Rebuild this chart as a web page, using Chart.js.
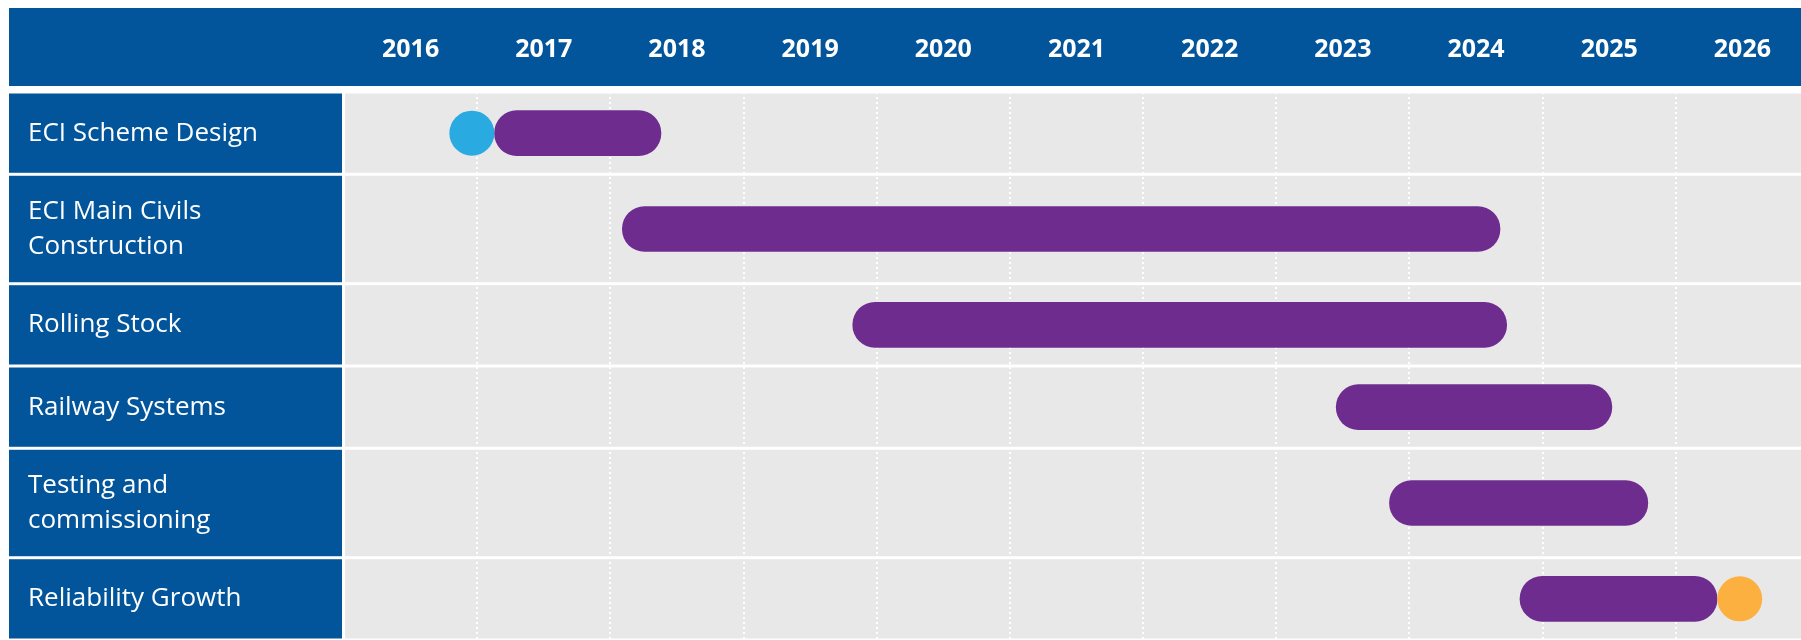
<!DOCTYPE html>
<html lang="en">
<head>
<meta charset="UTF-8">
<title>Programme timeline</title>
<style>
  html, body { margin: 0; padding: 0; background: #fff; overflow: hidden; }
  #wrap { position: relative; width: 1801px; height: 640px; }
</style>
</head>
<body>
<div id="wrap"><canvas id="gantt"></canvas></div>
<script src="https://cdn.jsdelivr.net/npm/chart.js@4.4.1/dist/chart.umd.min.js"></script>
<script>
// programme rows (an array = label on two lines)
const tasks = ['ECI Scheme Design', ['ECI Main Civils', 'Construction'], 'Rolling Stock',
               'Railway Systems', ['Testing and', 'commissioning'], 'Reliability Growth'];
const starts = [2017.13, 2018.09, 2019.82, 2023.45, 2023.85, 2024.83];
const ends   = [2018.38, 2024.68, 2024.73, 2025.52, 2025.79, 2026.31];

// milestones (row index, date, colour)
const milestoneRows = [0, 5];
const milestoneDates = [2016.96, 2026.48];
const milestoneColors = ['#29abe2', '#fbb040'];

// visible time range
const firstYear = 2016;
const lastVisible = 2026.94;

const BLUE = '#02559a', PURPLE = '#6e2c8f', CELL = '#e8e8e8';

// two-line labels get a taller row
const rowWeights = tasks.map(t => Array.isArray(t) ? 1.33 : 1);
const rowEdges = [0];
rowWeights.forEach(w => rowEdges.push(rowEdges[rowEdges.length - 1] + w));
const rowCenters = rowWeights.map((w, i) => rowEdges[i] + w / 2);

// header band, blue label cells and grey row cells behind the grid
const backdrop = {
    id: 'backdrop',
    beforeDraw(chart) {
        const {ctx, chartArea: a, scales: {y}} = chart;
        ctx.save();
        ctx.fillStyle = BLUE;
        ctx.fillRect(9, 8, chart.width - 9, 78);
        for (let i = 0; i < tasks.length; i++) {
            const top = y.getPixelForValue(rowEdges[i]) + 1.5;
            const bot = y.getPixelForValue(rowEdges[i + 1]) - 1.5;
            ctx.fillStyle = BLUE;
            ctx.fillRect(9, top, a.left - 11, bot - top);
            ctx.fillStyle = CELL;
            ctx.fillRect(a.left + 1, top, a.right - a.left - 1, bot - top);
        }
        ctx.restore();
    }
};

// no extra room for overhanging tick labels
const noPad = s => { s.paddingLeft = s.paddingRight = s.paddingTop = s.paddingBottom = 0; };

Chart.defaults.font.family = 'Open Sans';

new Chart(document.getElementById('gantt'), {
    type: 'bar',
    data: {
        datasets: [{
            type: 'bar',
            data: tasks.map((t, i) => ({ y: rowCenters[i], x: [starts[i], ends[i]] })),
            backgroundColor: PURPLE,
            barThickness: 45,
            borderRadius: 30,
            borderSkipped: false,
            order: 2
        }, {
            type: 'scatter',
            data: milestoneRows.map((r, i) => ({ x: milestoneDates[i], y: rowCenters[r] })),
            pointBackgroundColor: milestoneColors,
            pointBorderWidth: 0,
            pointRadius: 22.5,
            pointHoverRadius: 22.5,
            order: 1
        }]
    },
    options: {
        indexAxis: 'y',
        responsive: true,
        maintainAspectRatio: false,
        animation: false,
        events: [],
        layout: { autoPadding: false, padding: { left: 28, top: 0, right: 0, bottom: 0 } },
        plugins: { legend: { display: false }, tooltip: { enabled: false } },
        scales: {
            x: {
                type: 'linear',
                position: 'top',
                min: firstYear,
                max: lastVisible,
                offset: false,
                afterFit: s => { s.height = 92; noPad(s); },
                grid: {
                    offset: false,
                    drawTicks: false,
                    lineWidth: 2,
                    color: c => (c.tick && c.tick.value === firstYear) ? 'rgba(0,0,0,0)' : '#ffffff'
                },
                border: { display: false, dash: [2, 3] },
                ticks: {
                    stepSize: 1,
                    includeBounds: false,
                    autoSkip: false,
                    maxRotation: 0,
                    padding: 27,
                    labelOffset: 66.6,
                    color: '#ffffff',
                    font: { size: 25, weight: 'bold' },
                    callback: v => String(v)
                }
            },
            y: {
                type: 'linear',
                reverse: true,
                min: 0,
                max: rowEdges[rowEdges.length - 1],
                offset: false,
                afterFit: s => { s.width = 316; noPad(s); },
                afterBuildTicks: s => { s.ticks = rowCenters.map(v => ({ value: v })); },
                grid: { display: false, drawTicks: false, offset: false },
                border: { display: false },
                ticks: {
                    autoSkip: false,
                    crossAlign: 'far',
                    padding: 0,
                    color: '#ffffff',
                    font: { size: 26, lineHeight: 1.33 },
                    callback: (v, i) => tasks[i]
                }
            }
        }
    },
    plugins: [backdrop]
});
</script>
</body>
</html>
